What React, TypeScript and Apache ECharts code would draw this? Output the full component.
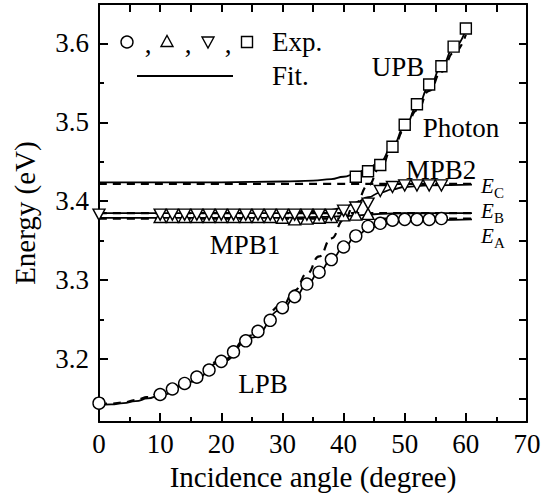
import React, { useEffect, useRef } from "react";
import * as echarts from "echarts";

// ---------- data ----------
// Experimental points
const lpbAngles = [0, 10, 12, 14, 16, 18, 20, 22, 24, 26, 28, 30, 32, 34, 36, 38, 40, 42, 44, 46, 48, 50, 52, 54, 56];
const lpbExp = [3.144, 3.155, 3.162, 3.169, 3.177, 3.186, 3.197, 3.209, 3.223, 3.235, 3.249, 3.265, 3.279, 3.295, 3.310, 3.326, 3.342, 3.356, 3.368, 3.372, 3.376, 3.377, 3.377, 3.377, 3.378];

const mpb1Angles = [10, 12, 14, 16, 18, 20, 22, 24, 26, 28, 30, 32, 34, 36, 38, 40, 42, 44];
const mpb1Exp = [3.380, 3.380, 3.380, 3.380, 3.380, 3.380, 3.380, 3.380, 3.380, 3.380, 3.379, 3.377, 3.378, 3.379, 3.380, 3.382, 3.383, 3.384];

const mpb2Angles = [0, 10, 12, 14, 16, 18, 20, 22, 24, 26, 28, 30, 32, 34, 36, 38, 40, 42, 44, 46, 48, 50, 52, 54, 56];
const mpb2Exp = [3.383, 3.383, 3.383, 3.383, 3.383, 3.383, 3.383, 3.383, 3.383, 3.383, 3.383, 3.383, 3.383, 3.383, 3.383, 3.383, 3.388, 3.392, 3.397, 3.413, 3.418, 3.420, 3.420, 3.420, 3.420];

const upbAngles = [42, 44, 46, 48, 50, 52, 54, 56, 58, 60];
const upbExp = [3.431, 3.438, 3.446, 3.469, 3.497, 3.523, 3.548, 3.571, 3.596, 3.619];

// Fitted polariton branches (solid)
const fitLpbX = [0, 2, 4, 6, 8, 10, 15, 20, 25, 30, 32, 34, 36, 38, 40, 42, 44, 46, 48, 50, 55, 61];
const fitLpbY = [3.142, 3.1425, 3.144, 3.1465, 3.150, 3.154, 3.171, 3.196, 3.227, 3.263, 3.278, 3.294, 3.310, 3.326, 3.341, 3.355, 3.365, 3.370, 3.373, 3.375, 3.376, 3.377];

const fitMpb1X = [0, 30, 36, 40, 42, 44, 46, 50, 61];
const fitMpb1Y = [3.379, 3.379, 3.380, 3.381, 3.382, 3.383, 3.384, 3.385, 3.385];

const fitMpb2X = [0, 30, 35, 38, 40, 42, 44, 46, 48, 50, 54, 61];
const fitMpb2Y = [3.385, 3.385, 3.387, 3.389, 3.392, 3.398, 3.405, 3.411, 3.415, 3.418, 3.420, 3.421];

const fitUpbX = [0, 20, 30, 35, 38, 40, 42, 44, 46, 48, 50, 52, 54, 56, 58, 60];
const fitUpbY = [3.424, 3.424, 3.425, 3.426, 3.428, 3.431, 3.435, 3.442, 3.450, 3.470, 3.494, 3.519, 3.545, 3.570, 3.594, 3.618];

// Uncoupled photon and exciton levels (dashed)
const photonX = [0, 2, 4, 6, 8, 10, 15, 20, 25, 30, 32, 34, 36, 38, 40, 42, 44, 46, 48, 50, 52, 54, 56, 58, 60];
const photonY = [3.143, 3.1435, 3.145, 3.148, 3.152, 3.157, 3.174, 3.198, 3.230, 3.268, 3.287, 3.308, 3.330, 3.353, 3.376, 3.398, 3.420, 3.443, 3.467, 3.491, 3.515, 3.540, 3.564, 3.588, 3.611];

const levelX = [0, 61];
const eA = 3.378;
const eB = 3.385;
const eC = 3.422;

// Axes
const xMin = 0;
const xMax = 70;
const yMin = 3.12;
const yMax = 3.65;
const yMajor = [3.2, 3.3, 3.4, 3.5, 3.6];
const yMinor = [3.15, 3.25, 3.35, 3.45, 3.55];
const yRight = [3.15, 3.2, 3.25, 3.3, 3.35, 3.4, 3.45, 3.5, 3.55, 3.6];

const FONT = "Times New Roman";

const zip = (xs: number[], ys: number[]) => xs.map((x, i) => [x, ys[i]]);

export default function App() {
  const ref = useRef<HTMLDivElement>(null);

  useEffect(() => {
    if (!ref.current) return;
    const chart = echarts.init(ref.current, undefined, { renderer: "svg" });

    const black = "#000";
    const solid = (name: string, xs: number[], ys: number[]) => ({
      name,
      type: "line",
      data: zip(xs, ys),
      showSymbol: false,
      smooth: true,
      smoothMonotone: "x",
      lineStyle: { color: black, width: 1.8, type: "solid" },
      z: 2,
      silent: true,
    });
    const dashed = (name: string, xs: number[], ys: number[]) => ({
      name,
      type: "line",
      data: zip(xs, ys),
      showSymbol: false,
      smooth: true,
      smoothMonotone: "x",
      lineStyle: { color: black, width: 2.2, type: [8, 6] },
      z: 2,
      silent: true,
    });
    const scatter = (name: string, xs: number[], ys: number[], symbol: string, size: any, rot = 0) => ({
      name,
      type: "scatter",
      data: zip(xs, ys),
      symbol,
      symbolSize: size,
      symbolRotate: rot,
      itemStyle: { color: "#ffffff", borderColor: black, borderWidth: 1.4, opacity: 1 },
      z: 4,
      silent: true,
    });

    const txt = (text: string, x: number, y: number, size = 27, italic = false, align = "center") => {
      const style: any = {
        text,
        fill: black,
        fontSize: size,
        fontFamily: FONT,
        align,
        verticalAlign: "middle",
      };
      if (italic) style.fontStyle = "italic";
      return { type: "text", x, y, style, z: 10 };
    };

    const option: any = {
      animation: false,
      backgroundColor: "#fff",
      grid: { left: 99, top: 4, width: 428, height: 428, containLabel: false },
      xAxis: [
        {
          type: "value",
          min: xMin,
          max: xMax,
          interval: 10,
          position: "bottom",
          axisLine: { show: true, onZero: false, lineStyle: { color: black, width: 2 } },
          axisTick: { show: true, inside: true, length: 9, lineStyle: { color: black, width: 2 } },
          minorTick: { show: true, splitNumber: 2, length: 5, lineStyle: { color: black, width: 2 } },
          axisLabel: { color: black, fontSize: 27, fontFamily: FONT, margin: 8 },
          splitLine: { show: false },
          name: "Incidence angle (degree)",
          nameLocation: "middle",
          nameGap: 30,
          nameTextStyle: { color: black, fontSize: 29, fontFamily: FONT },
        },
        {
          type: "value",
          min: xMin,
          max: xMax,
          interval: 5,
          position: "top",
          axisLine: { show: true, onZero: false, lineStyle: { color: black, width: 2 } },
          axisTick: { show: true, inside: true, length: 8, lineStyle: { color: black, width: 2 } },
          axisLabel: { show: false },
          splitLine: { show: false },
        },
      ],
      yAxis: [
        {
          type: "value",
          min: yMin,
          max: yMax,
          position: "left",
          axisLine: { show: true, onZero: false, lineStyle: { color: black, width: 2 } },
          axisTick: { show: true, inside: true, length: 9, customValues: yMajor, lineStyle: { color: black, width: 2 } },
          axisLabel: {
            customValues: yMajor,
            formatter: (v: number) => Number(v).toFixed(1),
            color: black,
            fontSize: 27,
            fontFamily: FONT,
            margin: 10,
          },
          splitLine: { show: false },
          name: "Energy (eV)",
          nameLocation: "middle",
          nameGap: 60,
          nameTextStyle: { color: black, fontSize: 29, fontFamily: FONT },
        },
        {
          type: "value",
          min: yMin,
          max: yMax,
          position: "left",
          offset: 0,
          axisLine: { show: false },
          axisTick: { show: true, inside: true, length: 5, customValues: yMinor, lineStyle: { color: black, width: 2 } },
          axisLabel: { show: false },
          splitLine: { show: false },
        },
        {
          type: "value",
          min: yMin,
          max: yMax,
          position: "right",
          axisLine: { show: true, onZero: false, lineStyle: { color: black, width: 2 } },
          axisTick: { show: true, inside: true, length: 8, customValues: yRight, lineStyle: { color: black, width: 2 } },
          axisLabel: { show: false },
          splitLine: { show: false },
        },
      ],
      series: [
        dashed("Photon", photonX, photonY),
        dashed("E_A", levelX, [eA, eA]),
        dashed("E_B", levelX, [eB, eB]),
        dashed("E_C", levelX, [eC, eC]),
        solid("LPB fit", fitLpbX, fitLpbY),
        solid("MPB1 fit", fitMpb1X, fitMpb1Y),
        solid("MPB2 fit", fitMpb2X, fitMpb2Y),
        solid("UPB fit", fitUpbX, fitUpbY),
        scatter("LPB", lpbAngles, lpbExp, "circle", 12),
        scatter("MPB1", mpb1Angles, mpb1Exp, "triangle", [12, 11]),
        scatter("MPB2", mpb2Angles, mpb2Exp, "triangle", [12, 11], 180),
        scatter("UPB", upbAngles, upbExp, "rect", 11),
      ],
      graphic: [
        // legend
        { type: "circle", shape: { cx: 127, cy: 42, r: 6 }, style: { fill: "#fff", stroke: black, lineWidth: 1.4 }, z: 10 },
        txt(",", 148, 44),
        { type: "polygon", shape: { points: [[161, 46.5], [173, 46.5], [167, 35.5]] }, style: { fill: "#fff", stroke: black, lineWidth: 1.4 }, z: 10 },
        txt(",", 188, 44),
        { type: "polygon", shape: { points: [[202, 37], [214, 37], [208, 48]] }, style: { fill: "#fff", stroke: black, lineWidth: 1.4 }, z: 10 },
        txt(",", 228, 44),
        { type: "rect", shape: { x: 241.5, y: 36.5, width: 11, height: 11 }, style: { fill: "#fff", stroke: black, lineWidth: 1.4 }, z: 10 },
        txt("Exp.", 272, 42, 27, false, "left"),
        { type: "line", shape: { x1: 137, y1: 76, x2: 233, y2: 76 }, style: { stroke: black, lineWidth: 2 }, z: 10 },
        txt("Fit.", 272, 76, 27, false, "left"),
        // annotations
        txt("UPB", 398, 67),
        txt("Photon", 461, 128),
        txt("MPB2", 441, 170),
        txt("MPB1", 245, 245),
        txt("LPB", 263, 384),
        // exciton labels
        txt("E", 481, 186, 21, true, "left"),
        txt("C", 494, 193, 15, false, "left"),
        txt("E", 481, 211, 21, true, "left"),
        txt("B", 494, 218, 15, false, "left"),
        txt("E", 481, 236, 21, true, "left"),
        txt("A", 494, 243, 15, false, "left"),
      ],
    };

    chart.setOption(option);
    return () => chart.dispose();
  }, []);

  return (
    <div
      ref={ref}
      style={{ position: "fixed", left: 0, top: 0, width: 551, height: 496, background: "#fff" }}
    />
  );
}
